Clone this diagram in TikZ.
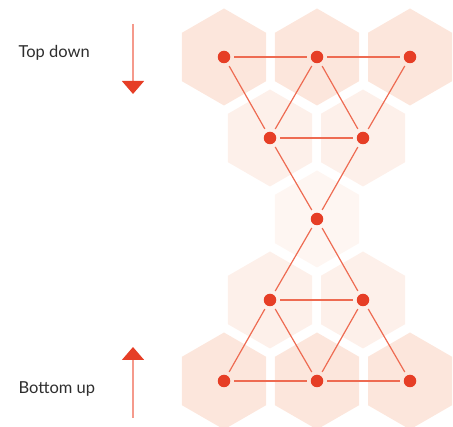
\documentclass[tikz,border=0pt]{standalone}
\usepackage{fontspec}
\setmainfont{Lato}
\usetikzlibrary{arrows.meta}
\definecolor{hexA}{HTML}{FCE6DC}
\definecolor{hexB}{HTML}{FDF0EA}
\definecolor{hexC}{HTML}{FEF6F2}
\definecolor{dotred}{HTML}{E63E26}
\definecolor{linered}{HTML}{EE6B52}
\definecolor{arrowline}{HTML}{F59A8C}
\definecolor{labelgray}{HTML}{2E2E2E}
\tikzset{
  hexcell/.style={fill=#1, draw=none},
  dot/.style={circle, fill=dotred, inner sep=0pt, minimum size=12.5pt},
  link/.style={draw=linered, line width=1.2pt, shorten <=4pt, shorten >=4pt},
  flow/.style={draw=arrowline, line width=1.6pt,
    -{Triangle[length=13pt, width=22pt, fill=dotred, color=dotred]}},
  caption/.style={text=labelgray, font=\fontsize{16.5}{19}\selectfont, anchor=west}
}
% pointy-top hexagon of circumradius 48.5 around a centre
\newcommand{\hexat}[2]{%
  \fill[hexcell=#2] (#1) ++(90:48.5) -- ++(210:48.5) -- ++(270:48.5)
    -- ++(330:48.5) -- ++(30:48.5) -- ++(90:48.5) -- cycle;}
\begin{document}
\begin{tikzpicture}[x=1pt, y=-1pt]
\useasboundingbox (0,0) rectangle (453,427);
% cell centres
\coordinate (c11) at (224,57);
\coordinate (c12) at (317,57);
\coordinate (c13) at (410,57);
\coordinate (c21) at (270,138);
\coordinate (c22) at (363,138);
\coordinate (c31) at (317,219);
\coordinate (c41) at (270,300);
\coordinate (c42) at (363,300);
\coordinate (c51) at (224,381);
\coordinate (c52) at (317,381);
\coordinate (c53) at (410,381);
% hexagonal cells
\foreach \c in {c11,c12,c13,c51,c52,c53} {\hexat{\c}{hexA}}
\foreach \c in {c21,c22,c41,c42} {\hexat{\c}{hexB}}
\hexat{c31}{hexC}
% nodes
\foreach \c in {c11,c12,c13,c21,c22,c31,c41,c42,c51,c52,c53}
  \node[dot] (n\c) at (\c) {};
% links
\foreach \a/\b in {c11/c12, c12/c13, c11/c21, c12/c21, c12/c22, c13/c22,
    c21/c22, c21/c31, c22/c31, c31/c41, c31/c42, c41/c42,
    c41/c51, c41/c52, c42/c52, c42/c53, c51/c52, c52/c53}
  \draw[link] (n\a) -- (n\b);
% direction arrows and labels
\coordinate (tdstart) at (133,24);
\coordinate (tdend) at (133,94);
\coordinate (bustart) at (133,418);
\coordinate (buend) at (133,347);
\draw[flow] (tdstart) -- (tdend);
\draw[flow] (bustart) -- (buend);
\node[caption] (topdown) at (15,53) {Top down};
\node[caption] (bottomup) at (15,389) {Bottom up};
\end{tikzpicture}
\end{document}
